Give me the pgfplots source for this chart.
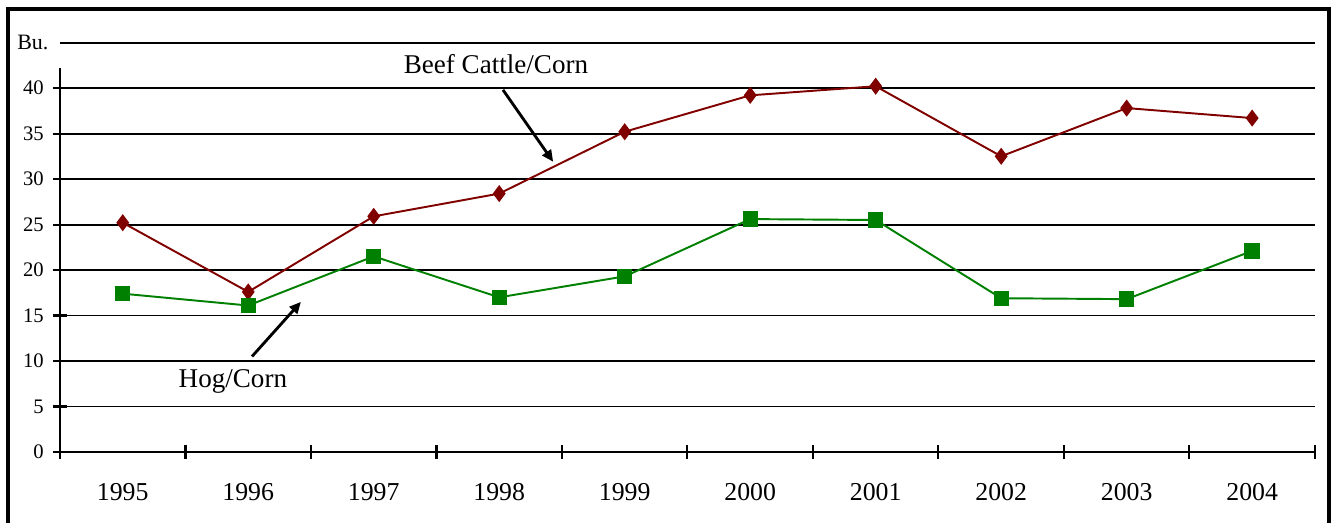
\documentclass[border=0pt]{standalone}
\usepackage{fontspec}
\setmainfont{Liberation Serif}
\usepackage{pgfplots}
\pgfplotsset{compat=1.18}
\usetikzlibrary{arrows.meta}
\definecolor{beef}{RGB}{128,0,0}
\definecolor{hog}{RGB}{0,128,0}

\begin{document}
\begin{tikzpicture}[x=0.3876pt,y=0.3876pt]
\begin{axis}[
  at={(0,0)}, anchor=south west,
  scale only axis, width=486.4pt, height=158.7pt,
  xmin=-0.5, xmax=9.5, ymin=0, ymax=45,
  clip=false,
  axis x line=bottom, axis y line=left,
  axis line style={-, line width=0.8pt},
  y axis line style={draw=none},
  xtick={-0.5,0.5,...,9.5}, x tick label as interval,
  xticklabels={1995,1996,1997,1998,1999,2000,2001,2002,2003,2004},
  ytick={0,5,...,40},
  extra y ticks={45}, extra y tick labels={},
  extra y tick style={major tick length=0pt, grid=major},
  tick align=center, major tick length=5.6pt,
  tick style={line width=0.8pt, black},
  ymajorgrids, grid style={line width=0.75pt, black},
  /pgf/number format/assume math mode=true,
  xticklabel style={font=\fontsize{10}{12}\selectfont, yshift=-6pt},
  yticklabel style={font=\fontsize{8}{10}\selectfont},
]
\addplot[beef, line width=0.75pt, mark=diamond*, mark size=2.7pt] coordinates {
  (0,25.2) (1,17.6) (2,25.9) (3,28.4) (4,35.2)
  (5,39.2) (6,40.2) (7,32.5) (8,37.8) (9,36.7)
};
\addplot[hog, line width=0.75pt, mark=square*, mark size=2.6pt] coordinates {
  (0,17.4) (1,16.1) (2,21.5) (3,17.0) (4,19.3)
  (5,25.6) (6,25.5) (7,16.9) (8,16.8) (9,22.1)
};
\draw[line width=0.8pt] (axis cs:-0.5,0) -- (axis cs:-0.5,42.2);
\node[anchor=east, font=\fontsize{8.5}{10}\selectfont] at (axis cs:-0.52,45) {Bu.};
\node[fill=white, inner sep=4pt, font=\fontsize{10.5}{12}\selectfont] at (axis cs:2.974,42.6) {Beef Cattle/Corn};
\draw[line width=1.1pt, -{Triangle[length=4.5pt,width=4pt]}] (axis cs:3.03,39.8) -- (axis cs:3.43,31.9);
\node[font=\fontsize{10.5}{12}\selectfont] at (axis cs:0.878,7.8) {Hog/Corn};
\draw[line width=1.1pt, -{Triangle[length=4.5pt,width=4pt]}] (axis cs:1.03,10.5) -- (axis cs:1.42,16.5);
\end{axis}
\draw[line width=1.2pt] (-52,-90) rectangle (1269,443);
\pgfresetboundingbox
\useasboundingbox (-60,-71) rectangle (1273,452);
\end{tikzpicture}
\end{document}
